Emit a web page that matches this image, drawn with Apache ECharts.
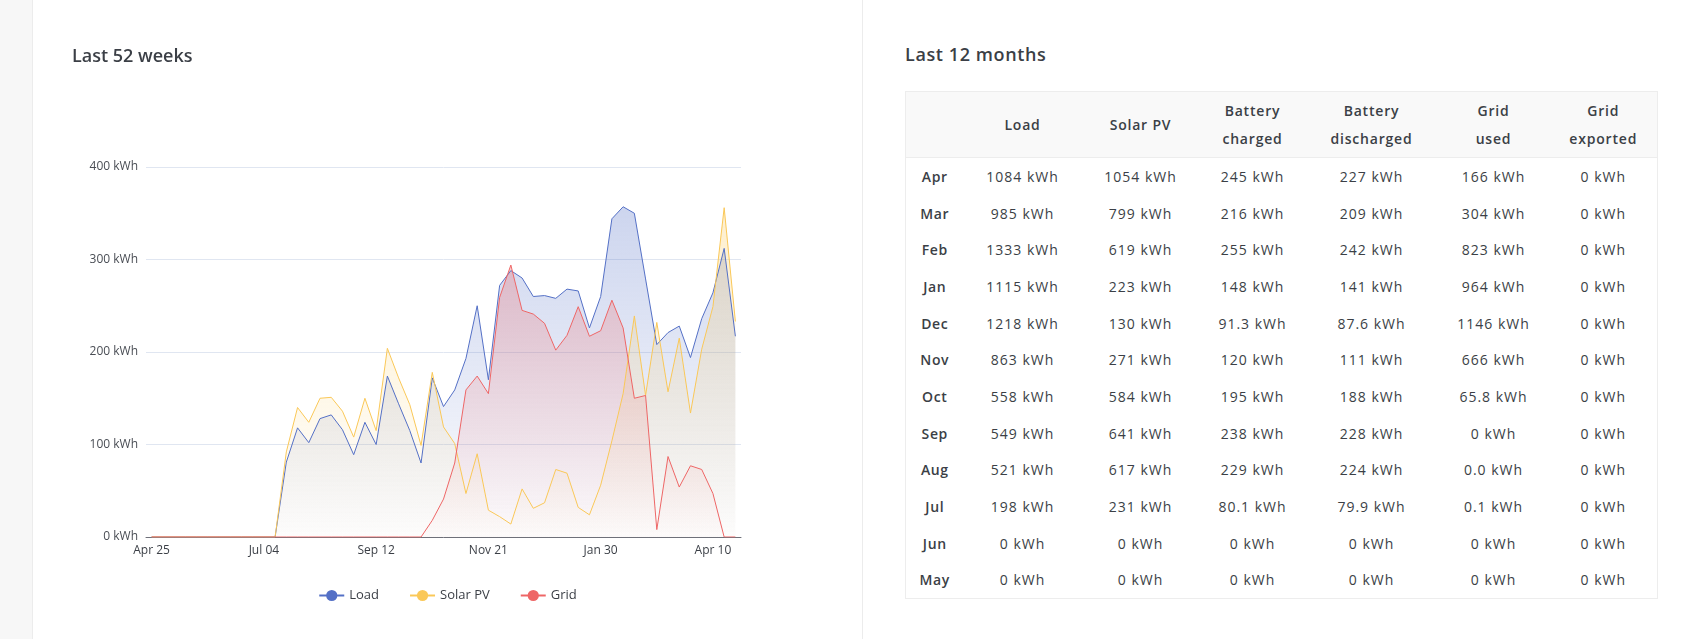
<!DOCTYPE html>
<html>
<head>
<meta charset="utf-8">
<script src="https://cdn.jsdelivr.net/npm/echarts@6/dist/echarts.min.js"></script>
<style>
  body { margin: 0; width: 1685px; height: 639px; background: #fff; font-family: "Open Sans", sans-serif; color: #3b3f46; position: relative; overflow: hidden; }
  #strip { position: absolute; left: 0; top: 0; width: 32px; height: 639px; background: #f7f7f7; border-right: 1px solid #ececec; }
  #divider { position: absolute; left: 862px; top: 0; width: 1px; height: 639px; background: #ececec; }
  #chart { position: absolute; left: 33px; top: 0; width: 829px; height: 639px; }
  .title { position: absolute; margin: 0; font-size: 18px; font-weight: 600; letter-spacing: 0.6px; color: #3b3f46; }
  table { position: absolute; left: 905px; top: 91px; width: 752px; border-collapse: collapse; border: 1px solid #ededed; table-layout: fixed; }
  th { background: #f9f9f9; font-weight: 600; font-size: 14px; letter-spacing: 0.8px; line-height: 28px; height: 65px; padding: 0; text-align: center; border-bottom: 1px solid #ededed; color: #3b3f46; }
  td { height: 36.7px; padding: 0; text-align: center; font-size: 14px; font-weight: 400; letter-spacing: 1px; color: #3b3f46; }
  td.m { font-weight: 600; letter-spacing: 0.6px; }
</style>
</head>
<body>
<div id="strip"></div>
<div id="divider"></div>
<div id="chart"></div>
<div class="title" style="left:905px;top:42px;">Last 12 months</div>
<table id="tbl"></table>
<script>
// weekly categories
const weeks = ['Apr 25','May 02','May 09','May 16','May 23','May 30','Jun 06','Jun 13','Jun 20','Jun 27',
  'Jul 04','Jul 11','Jul 18','Jul 25','Aug 01','Aug 08','Aug 15','Aug 22','Aug 29','Sep 05',
  'Sep 12','Sep 19','Sep 26','Oct 03','Oct 10','Oct 17','Oct 24','Oct 31','Nov 07','Nov 14',
  'Nov 21','Nov 28','Dec 05','Dec 12','Dec 19','Dec 26','Jan 02','Jan 09','Jan 16','Jan 23',
  'Jan 30','Feb 06','Feb 13','Feb 20','Feb 27','Mar 06','Mar 13','Mar 20','Mar 27','Apr 03',
  'Apr 10','Apr 17','Apr 24'];

const loadWeekly = [0,0,0,0,0,0,0,0,0,0,0,0,81,118,102,128,132,116,89,124,
  100,174,144,115,80,172,141,159,193,250,170,272,288,280,260,261,258,268,266,226,
  260,344,357,350,279,208,221,228,194,236,264,312,217];
const solarWeekly = [0,0,0,0,0,0,0,0,0,0,0,0,92,140,124,150,151,136,108,150,
  115,204,172,143,99,178,119,101,47,90,29,22,14,52,31,37,73,69,32,24,
  56,104,155,239,153,232,157,215,134,203,249,356,233];
const gridWeekly = [0,0,0,0,0,0,0,0,0,0,0,0,0,0,0,0,0,0,0,0,
  0,0,0,0,0,18,41,80,159,174,155,259,294,245,241,231,202,218,249,217,
  223,256,226,150,153,8,87,54,77,73,47,0,0];

// monthly table
const months = ['Apr','Mar','Feb','Jan','Dec','Nov','Oct','Sep','Aug','Jul','Jun','May'];
const loadMonthly = ['1084','985','1333','1115','1218','863','558','549','521','198','0','0'];
const solarMonthly = ['1054','799','619','223','130','271','584','641','617','231','0','0'];
const battChargedMonthly = ['245','216','255','148','91.3','120','195','238','229','80.1','0','0'];
const battDischargedMonthly = ['227','209','242','141','87.6','111','188','228','224','79.9','0','0'];
const gridUsedMonthly = ['166','304','823','964','1146','666','65.8','0','0.0','0.1','0','0'];
const gridExportedMonthly = ['0','0','0','0','0','0','0','0','0','0','0','0'];

const colWidths = [58, 118, 118, 106, 132, 112, 108];
const headers = ['', 'Load', 'Solar PV', 'Battery<br>charged', 'Battery<br>discharged', 'Grid<br>used', 'Grid<br>exported'];

let html = '<colgroup>' + colWidths.map(w => '<col style="width:' + w + 'px">').join('') + '</colgroup>';
html += '<tr>' + headers.map(h => '<th>' + h + '</th>').join('') + '</tr>';
months.forEach((m, i) => {
  const cells = [loadMonthly[i], solarMonthly[i], battChargedMonthly[i], battDischargedMonthly[i], gridUsedMonthly[i], gridExportedMonthly[i]];
  html += '<tr><td class="m">' + m + '</td>' + cells.map(v => '<td>' + v + ' kWh</td>').join('') + '</tr>';
});
document.getElementById('tbl').innerHTML = html;

const chart = echarts.init(document.getElementById('chart'));

function area(r, g, b) {
  return {
    color: new echarts.graphic.LinearGradient(0, 0, 0, 1, [
      { offset: 0, color: 'rgba(' + r + ',' + g + ',' + b + ',0.42)' },
      { offset: 1, color: 'rgba(' + r + ',' + g + ',' + b + ',0.02)' }
    ])
  };
}

const option = {
  animation: false,
  textStyle: { fontFamily: 'Open Sans' },
  color: ['#5470c6', '#fac858', '#ee6666'],
  title: {
    text: 'Last 52 weeks',
    left: 34,
    top: 43,
    textStyle: { fontSize: 18, fontWeight: 600, color: '#3b3f46', fontFamily: 'Open Sans' }
  },
  legend: {
    left: 'center',
    top: 584,
    itemWidth: 25,
    itemHeight: 14,
    itemGap: 30,
    textStyle: { fontSize: 13, color: '#3b3f46' },
    data: ['Load', 'Solar PV', 'Grid']
  },
  grid: { left: 113, right: 121, top: 167, bottom: 102 },
  xAxis: {
    type: 'category',
    boundaryGap: true,
    data: weeks,
    axisLine: { lineStyle: { color: '#6e7079' } },
    axisTick: { interval: 9, lineStyle: { color: '#6e7079' } },
    axisLabel: { interval: 9, fontSize: 12, color: '#3b3f46', margin: 8 }
  },
  yAxis: {
    type: 'value',
    min: 0,
    max: 400,
    interval: 100,
    axisLabel: { formatter: '{value} kWh', fontSize: 12, color: '#4a4e55', margin: 8 },
    splitLine: { lineStyle: { color: '#e0e6f1' } }
  },
  series: [
    { name: 'Load', type: 'line', data: loadWeekly, showSymbol: false, symbol: 'circle',
      lineStyle: { width: 1 }, areaStyle: area(84, 112, 198) },
    { name: 'Solar PV', type: 'line', data: solarWeekly, showSymbol: false, symbol: 'circle',
      lineStyle: { width: 1 }, areaStyle: area(250, 200, 88) },
    { name: 'Grid', type: 'line', data: gridWeekly, showSymbol: false, symbol: 'circle',
      lineStyle: { width: 1 }, areaStyle: area(238, 102, 102) }
  ]
};
chart.setOption(option);
</script>
</body>
</html>
